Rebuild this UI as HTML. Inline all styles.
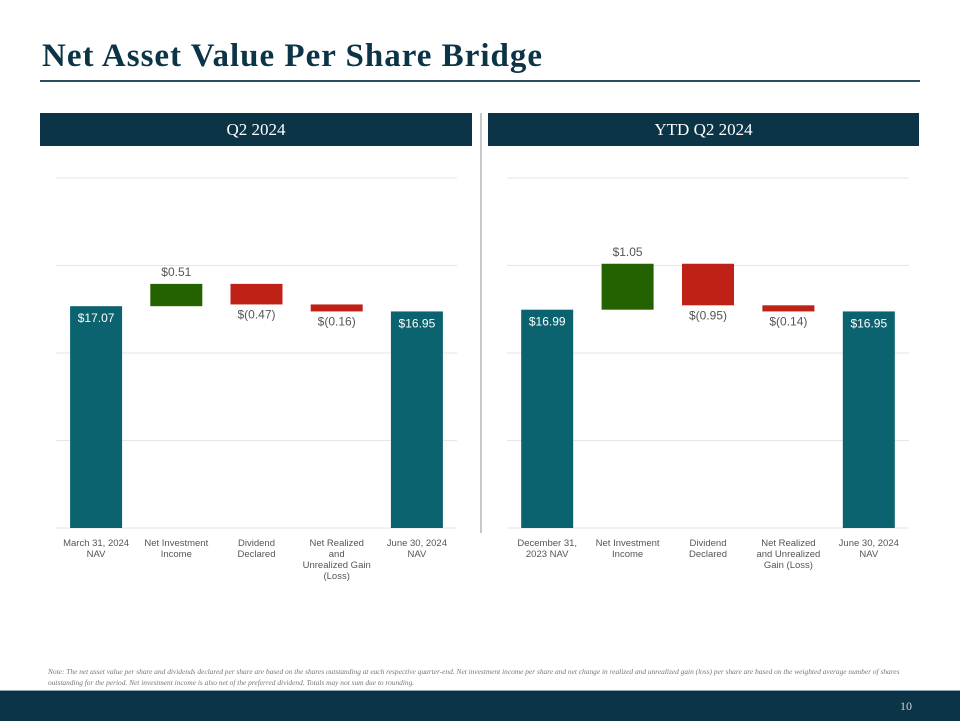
<!DOCTYPE html>
<html><head><meta charset="utf-8"><style>
body{margin:0;width:960px;height:720px;position:relative;background:#fff;overflow:hidden;font-family:"Liberation Sans",sans-serif}
.title{position:absolute;left:42px;top:38px;font-family:"Liberation Serif",serif;font-weight:bold;font-size:33px;color:#0b3447;letter-spacing:1px}
.rule{position:absolute;left:40px;top:80px;width:880px;height:2px;background:#2d4e5c}
.hdr{position:absolute;top:113px;height:33px;background:#0b3447;color:#fff;font-family:"Liberation Serif",serif;font-size:17px;line-height:33px;text-align:center}
.div{position:absolute;left:480px;top:113px;width:2px;height:420px;background:#c8c8c8}
.note{position:absolute;left:48px;top:666px;width:870px;font-family:"Liberation Serif",serif;font-style:italic;font-size:7.4px;line-height:11px;color:#777}
.foot{position:absolute;left:0;top:690px;width:960px;height:30px;background:#0b3447;border-top:1px solid #8aa6b3}
.pg{position:absolute;right:48px;top:8px;color:#c8d4da;font-family:"Liberation Serif",serif;font-size:12px}
</style></head><body>
<div class="title">Net Asset Value Per Share Bridge</div>
<div class="rule"></div>
<div class="hdr" style="left:40px;width:432px">Q2 2024</div>
<div class="hdr" style="left:488px;width:431px">YTD Q2 2024</div>
<div class="div"></div>
<svg id="chart" width="960" height="720" style="position:absolute;left:0;top:0"></svg>
<div class="note">Note: The net asset value per share and dividends declared per share are based on the shares outstanding at each respective quarter-end. Net investment income per share and net change in realized and unrealized gain (loss) per share are based on the weighted average number of shares outstanding for the period. Net investment income is also net of the preferred dividend. Totals may not sum due to rounding.</div>
<div class="foot"><div class="pg">10</div></div>
<script>
const q2Categories=[["March 31, 2024","NAV"],["Net Investment","Income"],["Dividend","Declared"],["Net Realized","and","Unrealized Gain","(Loss)"],["June 30, 2024","NAV"]];
const q2Values=[17.07,0.51,-0.47,-0.16,16.95];
const q2Labels=["$17.07","$0.51","$(0.47)","$(0.16)","$16.95"];
const ytdCategories=[["December 31,","2023 NAV"],["Net Investment","Income"],["Dividend","Declared"],["Net Realized","and Unrealized","Gain (Loss)"],["June 30, 2024","NAV"]];
const ytdValues=[16.99,1.05,-0.95,-0.14,16.95];
const ytdLabels=["$16.99","$1.05","$(0.95)","$(0.14)","$16.95"];
const yTicks=[12,14,16,18,20];
const NS="http://www.w3.org/2000/svg";
const svg=document.getElementById('chart');
function mk(t,a){const e=document.createElementNS(NS,t);for(const k in a)e.setAttribute(k,a[k]);svg.appendChild(e);return e;}
function draw(x0,x1,cats,vals,labels,prefix){
  const yMin=12,yMax=20,yB=528,yT=178;
  const y=v=>yB-(v-yMin)/(yMax-yMin)*(yB-yT);
  const bw=(x1-x0)/cats.length;
  const x=i=>x0+bw*i+bw/2;
  yTicks.forEach(t=>{const l=mk('line',{x1:x0,x2:x1,y1:y(t),y2:y(t),stroke:'#e6e6e6','stroke-width':1});
    
    });
  let run=0;
  vals.forEach((v,i)=>{
    let top,bot,fill;
    if(i===0||i===vals.length-1){top=y(v);bot=y(yMin);fill='#0b6370';run=v;}
    else{const s=run,e=run+v;top=y(Math.max(s,e));bot=y(Math.min(s,e));fill=v>=0?'#246200':'#bf2116';run=e;}
    const r=mk('rect',{x:x(i)-26,y:top,width:52,height:Math.max(bot-top,1),fill:fill});
    
    
    let ly,col='#555';
    if(i===0||i===vals.length-1){ly=top+16;col='#fff';}
    else if(v>=0){ly=top-8;}
    else{ly=bot+14;}
    const t=mk('text',{x:x(i),y:ly,'text-anchor':'middle','font-size':12,fill:col,'font-family':'Liberation Sans, sans-serif'});
    t.textContent=labels[i];
    
    
    cats[i].forEach((line,j)=>{const c=mk('text',{x:x(i),y:546+j*11,'text-anchor':'middle','font-size':9.5,fill:'#555','font-family':'Liberation Sans, sans-serif'});
      c.textContent=line;
      
      });
  });
}
draw(56,457,q2Categories,q2Values,q2Labels,'q2');
draw(507,909,ytdCategories,ytdValues,ytdLabels,'ytd');
</script>
</body></html>
